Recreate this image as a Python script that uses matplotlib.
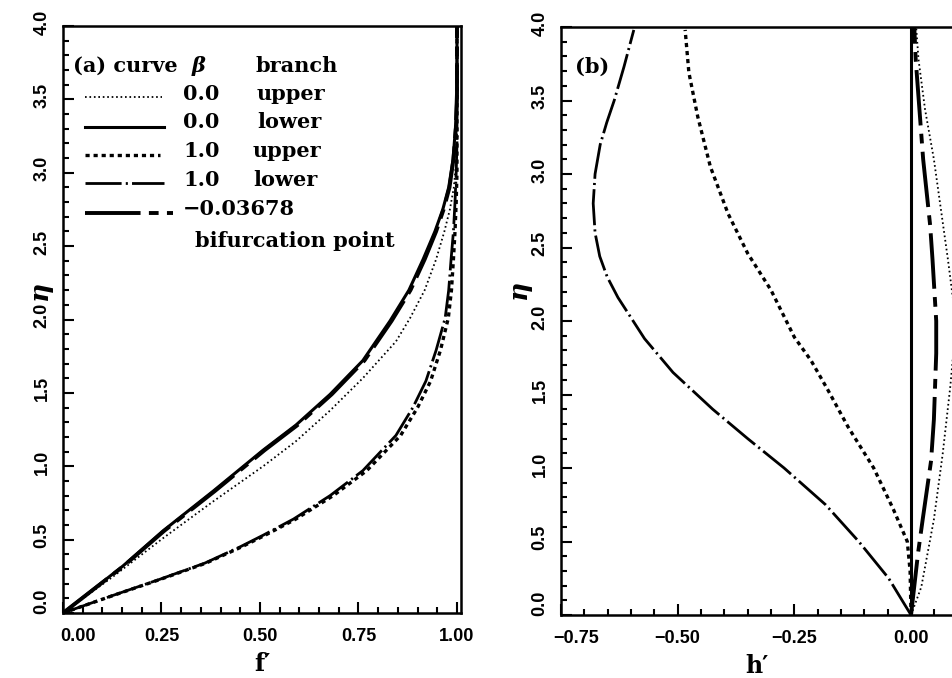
import matplotlib
matplotlib.use("Agg")
import matplotlib.pyplot as plt
from matplotlib.transforms import ScaledTranslation
import numpy as np

# ---------------- data ----------------
# panel (a): f' against eta
eta_a_s0_lower = [0.0, 0.32, 0.56, 0.83, 1.11, 1.28, 1.49, 1.72, 1.99, 2.2, 2.41, 2.6, 2.75, 2.9, 3.09, 3.3, 3.54, 4.0]
fp_s0_lower    = [0.0, 0.152, 0.254, 0.381, 0.508, 0.591, 0.678, 0.761, 0.830, 0.878, 0.914, 0.944, 0.964, 0.979, 0.990, 0.996, 1.0, 1.0]
fp_bif         = [0.0, 0.154, 0.257, 0.385, 0.512, 0.595, 0.682, 0.765, 0.834, 0.882, 0.918, 0.947, 0.966, 0.981, 0.991, 0.997, 1.0, 1.0]

eta_a_s0_upper = [0.0, 0.25, 0.51, 0.76, 1.0, 1.17, 1.38, 1.6, 1.85, 2.01, 2.2, 2.41, 2.6, 2.75, 2.9, 3.05, 3.2, 4.0]
fp_s0_upper    = [0.0, 0.128, 0.254, 0.381, 0.508, 0.591, 0.678, 0.761, 0.845, 0.881, 0.918, 0.947, 0.968, 0.982, 0.992, 0.997, 1.0, 1.0]

eta_a_s1 = [0.0, 0.12, 0.23, 0.34, 0.45, 0.53, 0.64, 0.80, 0.97, 1.21, 1.40, 1.58, 1.79, 2.01, 2.2, 2.41, 2.6, 2.8, 3.0, 3.2, 4.0]
fp_s1_lower = [0.0, 0.127, 0.246, 0.36, 0.449, 0.508, 0.585, 0.678, 0.761, 0.845, 0.888, 0.921, 0.947, 0.970, 0.979, 0.985, 0.991, 0.995, 0.998, 1.0, 1.0]
fp_s1_upper = [0.0, 0.128, 0.248, 0.363, 0.453, 0.513, 0.591, 0.686, 0.771, 0.857, 0.900, 0.933, 0.958, 0.978, 0.986, 0.991, 0.995, 0.998, 1.0, 1.0, 1.0]

# panel (b): h' against eta
eta_b_s1_lower = [0.0, 0.25, 0.5, 0.75, 1.0, 1.2, 1.4, 1.65, 1.88, 2.16, 2.3, 2.44, 2.6, 2.8, 3.0, 3.2, 3.35, 3.5, 3.73, 3.98]
hp_s1_lower    = [0.0, -0.048, -0.112, -0.183, -0.272, -0.35, -0.425, -0.51, -0.571, -0.628, -0.651, -0.667, -0.677, -0.681, -0.677, -0.666, -0.652, -0.636, -0.615, -0.594]

eta_b_s1_upper = [0.0, 0.3, 0.5, 0.72, 1.0, 1.28, 1.53, 1.73, 1.89, 2.21, 2.46, 2.73, 3.05, 3.39, 3.69, 3.98]
hp_s1_upper    = [0.0, -0.002, -0.008, -0.038, -0.08, -0.135, -0.178, -0.214, -0.25, -0.30, -0.35, -0.392, -0.43, -0.457, -0.476, -0.484]

eta_b_s0_lower = [0.0, 4.0]
hp_s0_lower    = [0.0, 0.0]

eta_b_bif = [0.0, 0.42, 0.65, 1.05, 1.33, 1.78, 2.0, 2.42, 2.65, 3.1, 3.44, 3.78, 4.0]
hp_bif    = [0.0, 0.015, 0.025, 0.043, 0.049, 0.054, 0.054, 0.046, 0.041, 0.026, 0.018, 0.010, 0.007]

eta_b_s0_upper = [0.0, 0.19, 0.65, 1.1, 1.55, 1.9, 2.1, 2.42, 2.76, 3.1, 3.44, 3.78, 4.0]
hp_s0_upper    = [0.0, 0.022, 0.049, 0.068, 0.084, 0.094, 0.092, 0.079, 0.064, 0.049, 0.030, 0.016, 0.011]

# ticks
xticks_a = [0.0, 0.25, 0.5, 0.75, 1.0]
xticklabels_a = ['0.00', '0.25', '0.50', '0.75', '1.00']
xticks_b = [-0.75, -0.5, -0.25, 0.0]
xticklabels_b = ['\u22120.75', '\u22120.50', '\u22120.25', '0.00']
yticks = [0.0, 0.5, 1.0, 1.5, 2.0, 2.5, 3.0, 3.5, 4.0]
yticklabels = ['0.0', '0.5', '1.0', '1.5', '2.0', '2.5', '3.0', '3.5', '4.0']

legend_beta = ['0.0', '0.0', '1.0', '1.0', '\u22120.03678']
legend_branch = ['upper', 'lower', 'upper', 'lower', '']

# ---------------- styles ----------------
plt.rcParams['lines.scale_dashes'] = False
plt.rcParams['lines.dash_capstyle'] = 'butt'
st_dot = dict(color='k', lw=1.3, dashes=(1.2, 2.0))
st_solid = dict(color='k', lw=2.2, linestyle='-')
st_dash = dict(color='k', lw=2.4, dashes=(3.0, 2.8))
st_dashdot = dict(color='k', lw=2.0, dashes=(26, 3, 1.5, 3))
st_bif = dict(color='k', lw=2.8, dashes=(40, 6, 7, 6))

W, H = 952, 678
fig = plt.figure(figsize=(W / 100, H / 100), dpi=100)


def px_axes(l, t, r, b):
    return [l / W, 1 - b / H, (r - l) / W, (b - t) / H]


axA = fig.add_axes(px_axes(63, 26, 461, 613))
axB = fig.add_axes(px_axes(561, 27, 561 + 466.7, 615))

serif = 'DejaVu Serif'
tickfont = 'Liberation Sans'


def style_axes(ax, xlim, xticks, xticklabels, xminor_step):
    ax.set_xlim(*xlim)
    ax.set_ylim(0, 4)
    ax.set_xticks(xticks)
    ax.set_xticklabels(xticklabels)
    ax.set_xticks(np.arange(xlim[0], xlim[1] + 1e-9, xminor_step), minor=True)
    ax.set_yticks(yticks)
    ax.set_yticklabels(yticklabels, rotation=90, va='center')
    ax.set_yticks(np.arange(0, 4.0001, 0.1), minor=True)
    ax.tick_params(which='both', direction='in', top=False, right=False, width=1.5)
    ax.tick_params(which='major', length=8)
    ax.tick_params(which='minor', length=4)
    ax.tick_params(axis='x', pad=11, labelsize=13)
    ax.tick_params(axis='y', pad=9, labelsize=13)
    for lab in ax.get_xticklabels() + ax.get_yticklabels():
        lab.set_fontfamily(tickfont)
        lab.set_fontweight('bold')
    for s in ax.spines.values():
        s.set_linewidth(1.8)


style_axes(axA, (0.0, 1.0102), xticks_a, xticklabels_a, 0.05)
style_axes(axB, (-0.75, 0.25), xticks_b, xticklabels_b, 0.05)

# panel (a) curves
axA.plot(fp_s0_upper, eta_a_s0_upper, **st_dot)
axA.plot(fp_s0_lower, eta_a_s0_lower, **st_solid)
axA.plot(fp_s1_upper, eta_a_s1, **st_dash)
axA.plot(fp_s1_lower, eta_a_s1, **st_dashdot)
axA.plot(fp_bif, eta_a_s0_lower, **st_bif)

# panel (b) curves
axB.plot(hp_s0_upper, eta_b_s0_upper, **st_dot)
axB.plot(hp_s0_lower, eta_b_s0_lower, **st_solid)
axB.plot(hp_s1_upper, eta_b_s1_upper, **st_dash)
axB.plot(hp_s1_lower, eta_b_s1_lower, **st_dashdot)
axB.plot(hp_bif, eta_b_bif, **st_bif)

# axis labels
for ax, lab, xc in ((axA, 'f\u2032', 0.5), (axB, 'h\u2032', 0.42)):
    ax.set_xlabel(lab, fontfamily=serif, fontweight='bold', fontsize=17, va='center')
    ax.xaxis.set_label_coords(xc, -0.087)
axA.set_ylabel('\u03b7', fontfamily=serif, fontweight='bold', style='italic', fontsize=19,
               rotation=90, va='center', ha='center')
axA.yaxis.set_label_coords(-0.058, 0.55)
axB.set_ylabel('\u03b7', fontfamily=serif, fontweight='bold', style='italic', fontsize=19,
               rotation=90, va='center', ha='center')
axB.yaxis.set_label_coords(-0.092, 0.553)

# legend in panel (a), drawn by hand
fs = 15
fw = 'bold'
tA = axA.transAxes


def fx(px):
    return (px - 63) / 398


def fy(py):
    return (613 - py) / 587


axA.text(fx(73), fy(72), '(a) curve', transform=tA, fontfamily=serif, fontsize=fs,
         fontweight=fw, va='baseline')
axA.text(fx(192), fy(72), '\u03b2', transform=tA, fontfamily=serif, fontsize=fs,
         fontweight='bold', style='italic', va='baseline')
axA.text(fx(255), fy(72), 'branch', transform=tA, fontfamily=serif, fontsize=fs,
         fontweight=fw, va='baseline')

row_base = [100, 128, 157, 186, 215]
row_line = [97, 126.7, 155, 183, 213]
row_branch_x = [257, 257, 253, 253, 253]
row_line_end = [162, 164, 160, 164, 173]
row_styles = [st_dot, st_solid, st_dash, st_dashdot, st_bif]
for i in range(5):
    axA.plot([fx(85), fx(row_line_end[i])], [fy(row_line[i])] * 2, transform=tA,
             clip_on=False, **row_styles[i])
    axA.text(fx(183), fy(row_base[i]), legend_beta[i], transform=tA, fontfamily=serif,
             fontsize=fs, fontweight=fw, va='baseline')
    if legend_branch[i]:
        axA.text(fx(row_branch_x[i]), fy(row_base[i]), legend_branch[i], transform=tA,
                 fontfamily=serif, fontsize=fs, fontweight=fw, va='baseline')
axA.text(fx(195), fy(247), 'bifurcation point', transform=tA, fontfamily=serif,
         fontsize=fs, fontweight=fw, va='baseline')

axB.text(14 / 466.7, (615 - 73) / 588, '(b)', transform=axB.transAxes, fontfamily=serif,
         fontsize=fs, fontweight=fw, va='baseline')

# shift tick labels like the original (first label nudged inside)
for ax in (axA, axB):
    for i, t in enumerate(ax.xaxis.get_major_ticks()):
        if i == 0:
            t.label1.set_transform(t.label1.get_transform() +
                                   ScaledTranslation(0.15, 0, fig.dpi_scale_trans))
    for i, t in enumerate(ax.yaxis.get_major_ticks()):
        dy = 0.12 if i == 0 else 0.04
        t.label1.set_transform(t.label1.get_transform() +
                               ScaledTranslation(0, dy, fig.dpi_scale_trans))

fig.savefig('out.png', dpi=100)
